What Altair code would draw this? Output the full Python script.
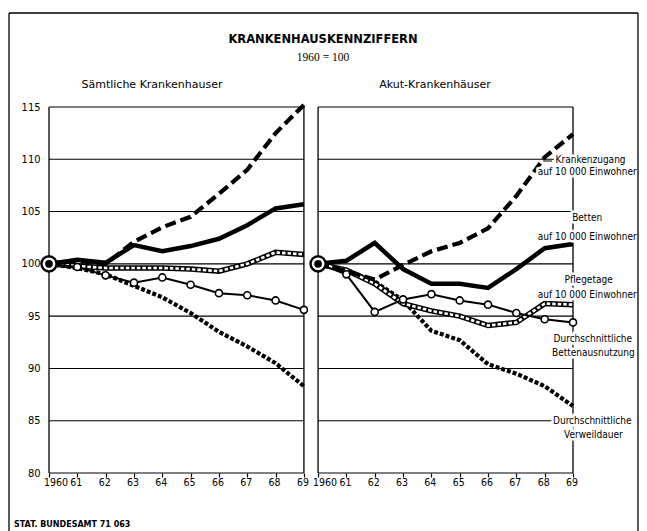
import altair as alt
import pandas as pd

# ---------------- data ----------------
years = [1960, 1961, 1962, 1963, 1964, 1965, 1966, 1967, 1968, 1969]
tick_labels = ["1960", "61", "62", "63", "64", "65", "66", "67", "68", "69"]
panel_names = ["Sämtliche Krankenhauser", "Akut-Krankenhäuser"]
series_names = ["Krankenzugang", "Betten", "Pflegetage", "Bettenausnutzung", "Verweildauer"]

# Sämtliche Krankenhäuser
kz_L = [100, 100.3, 100.0, 102.1, 103.5, 104.5, 106.7, 109.0, 112.5, 115.2]
bet_L = [100, 100.4, 100.1, 101.8, 101.2, 101.7, 102.4, 103.7, 105.3, 105.7]
pfl_L = [100, 99.8, 99.6, 99.6, 99.6, 99.5, 99.3, 100.0, 101.1, 100.9]
bau_L = [100, 99.7, 98.9, 98.2, 98.7, 98.0, 97.2, 97.0, 96.5, 95.6]
vwd_L = [100, 99.6, 99.0, 97.9, 96.8, 95.3, 93.5, 92.1, 90.5, 88.3]

# Akut-Krankenhäuser
kz_R = [100, 99.3, 98.5, 99.9, 101.2, 102.0, 103.4, 106.5, 110.2, 112.4]
bet_R = [100, 100.3, 102.0, 99.5, 98.1, 98.1, 97.7, 99.5, 101.5, 101.9]
pfl_R = [100, 99.4, 98.1, 96.2, 95.5, 95.0, 94.1, 94.4, 96.2, 96.1]
bau_R = [100, 99.0, 95.4, 96.6, 97.1, 96.5, 96.1, 95.3, 94.7, 94.4]
vwd_R = [100, 99.4, 98.3, 96.5, 93.6, 92.7, 90.4, 89.5, 88.3, 86.4]

y_ticks = [80, 85, 90, 95, 100, 105, 110, 115]

label_lines = ["Krankenzugang", "auf 10 000 Einwohner",
               "Betten", "auf 10 000 Einwohner",
               "Pflegetage", "auf 10 000 Einwohner",
               "Durchschnittliche", "Bettenausnutzung",
               "Durchschnittliche", "Verweildauer"]
label_x = [19.12, 19.0, 19.0, 19.0, 19.05, 19.0, 19.2, 19.22, 19.18, 19.22]
label_y = [109.9, 108.75, 104.35, 102.55, 98.45, 97.0, 92.8, 91.45, 84.95, 83.6]

# ---------------- layout helpers ----------------
panel_offset = [0.0, 9.5]
W, H = 524, 366
FONT = "DejaVu Sans Condensed, Liberation Sans Narrow, DejaVu Sans, sans-serif"

series_L = [kz_L, bet_L, pfl_L, bau_L, vwd_L]
series_R = [kz_R, bet_R, pfl_R, bau_R, vwd_R]
rows = []
for pname, off, sers in zip(panel_names, panel_offset, [series_L, series_R]):
    for sname, vals in zip(series_names, sers):
        for yr, v in zip(years, vals):
            rows.append({"panel": pname, "series": sname, "year": yr,
                         "xpos": yr - 1960 + off, "value": v})
df = pd.DataFrame(rows)

grid = pd.DataFrame([{"xpos": off, "xend": off + 9, "value": v}
                     for off in panel_offset for v in y_ticks])
borders = pd.DataFrame([{"xpos": off + e, "value": 80, "vend": 115}
                        for off in panel_offset for e in (0, 9)])
xt = pd.DataFrame([{"xpos": yr - 1960 + off, "label": lab}
                   for off in panel_offset for yr, lab in zip(years, tick_labels)])
labels = pd.DataFrame({"text": label_lines, "xpos": label_x, "value": label_y})
start = pd.DataFrame({"xpos": panel_offset, "value": [100, 100]})

tick_vals = list(xt["xpos"])
xscale = alt.Scale(domain=[0, 18.5], nice=False, zero=False)
yscale = alt.Scale(domain=[80, 115], nice=False, zero=False)
xaxis = alt.Axis(values=tick_vals, labels=False, domain=False, grid=False,
                 ticks=True, tickSize=4, tickColor="black", tickWidth=1.2, title=None)
yaxis = alt.Axis(values=y_ticks, grid=False, domain=False, ticks=False,
                 labelPadding=9, labelFontSize=11, labelFont=FONT,
                 labelColor="black", title=None)


def X(field="xpos"):
    return alt.X(f"{field}:Q", scale=xscale, axis=xaxis)


def Y(field="value"):
    return alt.Y(f"{field}:Q", scale=yscale, axis=yaxis)


def sub(name):
    return alt.Chart(df).transform_filter(alt.datum.series == name)


one = alt.Data(values=[{"a": 1}])

layers = []
# grid and panel frames
layers.append(alt.Chart(grid).mark_rule(color="black", strokeWidth=1.1).encode(
    x=X(), x2="xend:Q", y=Y()))
layers.append(alt.Chart(borders).mark_rule(color="black", strokeWidth=1.3).encode(
    x=X(), y=Y(), y2="vend:Q"))

# series
layers.append(sub("Verweildauer").mark_line(color="black", strokeWidth=4.2,
                                            strokeDash=[4, 2]).encode(
    x=X(), y=Y(), detail="panel:N", order="year:Q"))
layers.append(sub("Pflegetage").mark_line(color="black", strokeWidth=5.5).encode(
    x=X(), y=Y(), detail="panel:N", order="year:Q"))
layers.append(sub("Pflegetage").mark_line(color="white", strokeWidth=2.6,
                                          strokeDash=[3.5, 2]).encode(
    x=X(), y=Y(), detail="panel:N", order="year:Q"))
layers.append(sub("Bettenausnutzung").mark_line(color="black", strokeWidth=2).encode(
    x=X(), y=Y(), detail="panel:N", order="year:Q"))
layers.append(sub("Bettenausnutzung").transform_filter(alt.datum.year > 1960).mark_point(
    shape="circle", filled=True, fill="white", stroke="black", strokeWidth=1.6,
    size=50, opacity=1).encode(x=X(), y=Y()))
layers.append(sub("Betten").mark_line(color="black", strokeWidth=4.5).encode(
    x=X(), y=Y(), detail="panel:N", order="year:Q"))
layers.append(sub("Krankenzugang").mark_line(color="black", strokeWidth=4.2,
                                             strokeDash=[11, 5]).encode(
    x=X(), y=Y(), detail="panel:N", order="year:Q"))

# start markers (1960 = 100)
layers.append(alt.Chart(start).mark_point(shape="circle", filled=True, fill="white",
                                          stroke="black", strokeWidth=2.4, size=230,
                                          opacity=1).encode(x=X(), y=Y()))
layers.append(alt.Chart(start).mark_point(shape="circle", filled=True, color="black",
                                          size=60, opacity=1).encode(x=X(), y=Y()))

# x tick labels
xt_first = xt[xt["label"] == "1960"]
xt_rest = xt[xt["label"] != "1960"]
layers.append(alt.Chart(xt_first).mark_text(align="left", baseline="middle", dx=-5,
                                            fontSize=10.5, font=FONT, color="black").encode(
    x=X(), y=alt.value(H + 10), text="label:N"))
layers.append(alt.Chart(xt_rest).mark_text(align="center", baseline="middle", dx=-1,
                                           fontSize=10.5, font=FONT, color="black").encode(
    x=X(), y=alt.value(H + 10), text="label:N"))

# series labels (with white halo)
layers.append(alt.Chart(labels).mark_text(align="center", baseline="middle", fontSize=10,
                                          font=FONT, color="white", stroke="white",
                                          strokeWidth=5).encode(
    x=X(), y=Y(), text="text:N"))
layers.append(alt.Chart(labels).mark_text(align="center", baseline="middle", fontSize=10,
                                          font=FONT, color="black").encode(
    x=X(), y=Y(), text="text:N"))
# leader for Krankenzugang
layers.append(alt.Chart(one).mark_rule(color="black", strokeWidth=1).encode(
    x=alt.value(494), x2=alt.value(503), y=alt.value(54)))

# titles
layers.append(alt.Chart(one).mark_text(fontSize=11.5, fontWeight="bold",
                                       font="DejaVu Sans, sans-serif", color="black").encode(
    x=alt.value(274), y=alt.value(-67), text=alt.value("KRANKENHAUSKENNZIFFERN")))
layers.append(alt.Chart(one).mark_text(fontSize=11.5, font="Liberation Serif, serif",
                                       color="black").encode(
    x=alt.value(274), y=alt.value(-49), text=alt.value("1960 = 100")))
layers.append(alt.Chart(one).mark_text(fontSize=11, font="DejaVu Sans, sans-serif",
                                       color="black").encode(
    x=alt.value(103), y=alt.value(-22), text=alt.value(panel_names[0])))
layers.append(alt.Chart(one).mark_text(fontSize=11, font="DejaVu Sans, sans-serif",
                                       color="black").encode(
    x=alt.value(386), y=alt.value(-22), text=alt.value(panel_names[1])))
layers.append(alt.Chart(one).mark_text(fontSize=8, fontWeight="bold", align="left",
                                       font="DejaVu Sans, sans-serif", color="black").encode(
    x=alt.value(-35), y=alt.value(418), text=alt.value("STAT. BUNDESAMT 71 063")))

# outer frame
layers.append(alt.Chart(one).mark_rule(color="black", strokeWidth=1.3).encode(
    x=alt.value(-40), x2=alt.value(589), y=alt.value(-94)))
layers.append(alt.Chart(one).mark_rule(color="black", strokeWidth=1.3).encode(
    x=alt.value(-40), y=alt.value(-94), y2=alt.value(430)))
layers.append(alt.Chart(one).mark_rule(color="black", strokeWidth=1.3).encode(
    x=alt.value(589), y=alt.value(-94), y2=alt.value(430)))

chart = alt.layer(*layers).properties(
    width=W, height=H,
    autosize=alt.AutoSizeParams(type="none"),
    padding={"left": 41, "top": 99, "right": 66, "bottom": 58},
    background="white",
).configure_view(stroke=None)

chart.save("out.html", embed_options={"renderer": "svg", "actions": False})
